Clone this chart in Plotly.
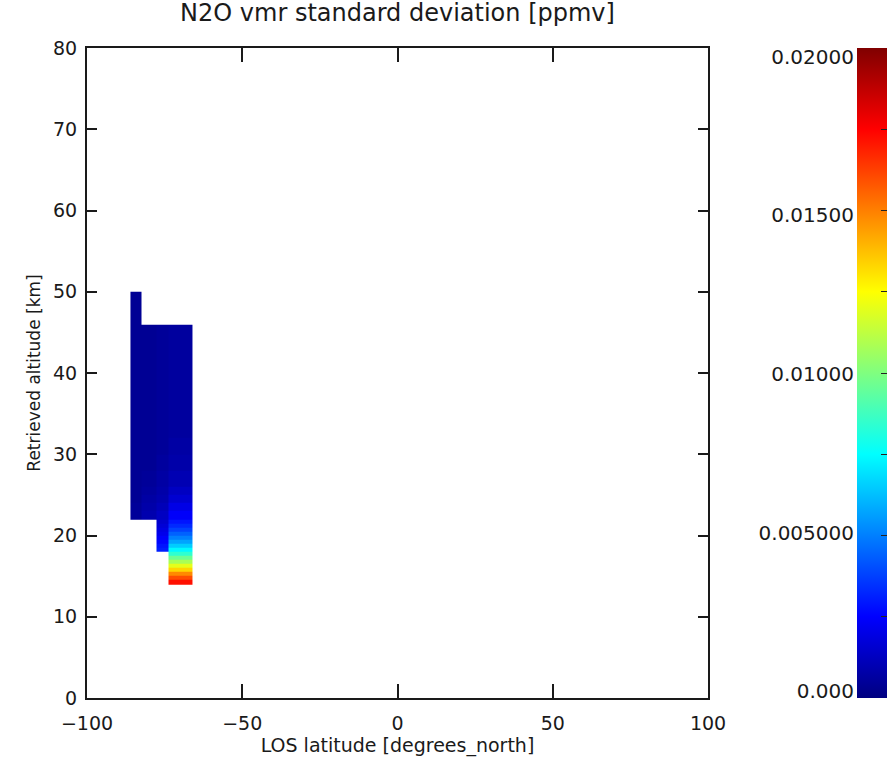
import plotly.graph_objects as go

# ---- data ----
lat_edges = [-86.0, -82.3, -77.6, -73.9, -66.1]
alt_edges = [14, 14.5, 15, 15.5, 16, 16.5, 17, 17.5, 18, 18.5, 19, 19.5, 20, 20.5, 21, 21.5,
             22, 23, 24, 25, 26, 28, 30, 32, 34, 36, 38, 40, 42, 44, 46, 48, 50]
N = None
# values per altitude bin (bottom to top) for each latitude column
col1 = [N] * 16 + [0.0005, 0.0005, 0.0004, 0.0004, 0.0004,
                   0.0004, 0.0004, 0.0004, 0.0004, 0.0004, 0.0004, 0.0004, 0.0004, 0.0004, 0.0004, 0.0004]
col2 = [N] * 16 + [0.0009, 0.0008, 0.0007, 0.0006, 0.0005,
                   0.0004, 0.0004, 0.0004, 0.0004, 0.0004, 0.0004, 0.0004, 0.0004, 0.0004, N, N]
col3 = [N] * 8 + [0.0031, 0.0029, 0.0026, 0.0024, 0.0021, 0.0019, 0.0017, 0.0015,
                  0.0013, 0.0011, 0.0009, 0.0008, 0.0007,
                  0.0006, 0.0005, 0.0005, 0.0005, 0.0005, 0.0005, 0.0005, 0.0005, 0.0005, N, N]
col4 = [0.0172, 0.0160, 0.0148, 0.0133, 0.0120, 0.0108, 0.0096, 0.0084,
        0.0074, 0.0065, 0.0057, 0.0050, 0.0044, 0.0038, 0.0033, 0.0029,
        0.0024, 0.0020, 0.0016, 0.0013, 0.0010,
        0.0008, 0.0007, 0.0006, 0.0006, 0.0006, 0.0006, 0.0006, 0.0006, 0.0006, N, N]

cb_tickvals = [0.0, 0.005, 0.01, 0.015, 0.02]
cb_ticktext = ["0.000", "0.005000", "0.01000", "0.01500", "0.02000"]
cb_marks = [0.0025, 0.005, 0.0075, 0.01, 0.0125, 0.015, 0.0175]
x_ticks = [-100, -50, 0, 50, 100]
y_ticks = [0, 10, 20, 30, 40, 50, 60, 70, 80]

z = [[c1, c2, c3, c4] for c1, c2, c3, c4 in zip(col1, col2, col3, col4)]

jet = [[0.0, "rgb(0,0,128)"], [0.125, "rgb(0,0,255)"], [0.375, "rgb(0,255,255)"],
       [0.625, "rgb(255,255,0)"], [0.875, "rgb(255,0,0)"], [1.0, "rgb(128,0,0)"]]

FONT = "DejaVu Sans"
INK = "#1a1a1a"

W, H = 887, 765
L, T = 87, 48
PLOT_W, PLOT_H = 621, 650
PAPER_W = W - L
CB_X = (857 - L) / PAPER_W

fig = go.Figure()
fig.add_trace(go.Heatmap(
    x=lat_edges, y=alt_edges, z=z,
    colorscale=jet, zmin=0, zmax=0.02,
    hoverongaps=False,
    colorbar=dict(
        x=CB_X, xanchor="left", xpad=0, thickness=30,
        y=0.5, yanchor="middle", len=1, lenmode="fraction", ypad=0,
        outlinewidth=0, showticklabels=False,
        tickmode="array", tickvals=cb_marks,
        ticks="inside", ticklen=6, tickwidth=1, tickcolor="#222222",
    ),
))
# invisible trace carrying the colorbar label axis
fig.add_trace(go.Scatter(x=[None], y=[None], xaxis="x", yaxis="y2",
                         showlegend=False, hoverinfo="skip"))

axis_common = dict(
    showline=True, linecolor=INK, linewidth=2, mirror="ticks",
    ticks="inside", tickcolor=INK, tickwidth=1.5,
    showgrid=False, zeroline=False,
    tickfont=dict(family=FONT, size=19, color=INK),
)

fig.update_layout(
    width=W, height=H, autosize=False,
    margin=dict(l=L, r=0, t=T, b=H - T - PLOT_H, autoexpand=False),
    paper_bgcolor="white", plot_bgcolor="rgba(0,0,0,0)",
    showlegend=False,
    title=dict(text="N2O vmr standard deviation [ppmv]",
               x=(L + PLOT_W / 2) / W, xref="container", xanchor="center",
               y=1 - 13 / H, yref="container", yanchor="middle",
               font=dict(family=FONT, size=24, color=INK)),
    xaxis=dict(range=[-100, 100], domain=[0, PLOT_W / PAPER_W], tickvals=x_ticks,
               ticklen=14, ticklabelstandoff=7, automargin=False,
               title=dict(text="LOS latitude [degrees_north]",
                          font=dict(family=FONT, size=19, color=INK), standoff=4),
               **axis_common),
    yaxis=dict(range=[0, 80], domain=[0, 1], tickvals=y_ticks, ticklen=10,
               ticklabelstandoff=4, automargin=False,
               title=dict(text="Retrieved altitude [km]",
                          font=dict(family=FONT, size=17, color=INK), standoff=8),
               **axis_common),
    yaxis2=dict(range=[-0.00022, 0.020283], domain=[0, 1], anchor="free",
                position=CB_X, side="left", showline=False, showgrid=False,
                zeroline=False, ticks="", tickvals=cb_tickvals, ticktext=cb_ticktext,
                ticklabelstandoff=3, automargin=False,
                tickfont=dict(family=FONT, size=20, color=INK)),
)

fig.write_html("out.html",
               config={"responsive": False, "displayModeBar": False},
               post_script="document.body.style.margin='0';document.body.style.overflow='hidden';")
